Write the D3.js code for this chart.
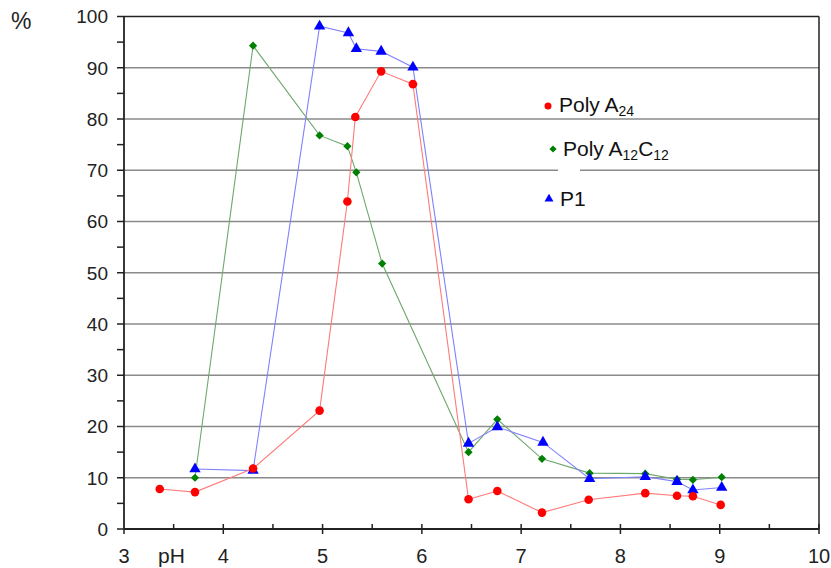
<!DOCTYPE html>
<html>
<head>
<meta charset="utf-8">
<script src="https://cdn.jsdelivr.net/npm/d3@7"></script>
<style>
  body { margin: 0; background: #fff; }
  svg { display: block; font-family: "Liberation Sans", Arial, sans-serif; }
</style>
</head>
<body>
<svg id="chart" width="831" height="568"></svg>
<script>
// pH values measured for each sample
var phRed   = [3.36, 3.715, 4.30, 4.97, 5.25, 5.33, 5.59, 5.91, 6.47, 6.76, 7.21, 7.68, 8.25, 8.57, 8.73, 9.01];
var polyA24 = [7.8, 7.2, 11.8, 23.1, 63.9, 80.4, 89.3, 86.8, 5.8, 7.4, 3.2, 5.7, 7.0, 6.5, 6.4, 4.7];

var phGreen    = [3.715, 4.30, 4.97, 5.25, 5.34, 5.60, 6.47, 6.76, 7.21, 7.69, 8.25, 8.57, 8.73, 9.02];
var polyA12C12 = [10.0, 94.3, 76.8, 74.7, 69.6, 51.8, 15.0, 21.4, 13.7, 10.9, 10.8, 9.7, 9.6, 10.1];

var phBlue = [3.715, 4.30, 4.97, 5.26, 5.34, 5.59, 5.91, 6.47, 6.76, 7.22, 7.69, 8.25, 8.57, 8.73, 9.02];
var p1     = [11.7, 11.4, 98.1, 96.8, 93.7, 93.2, 90.1, 16.7, 19.9, 16.9, 9.8, 10.2, 9.25, 7.6, 8.1];

var xTicks = [3, 4, 5, 6, 7, 8, 9, 10];
var yTicks = [0, 10, 20, 30, 40, 50, 60, 70, 80, 90, 100];

var svg = d3.select('#chart');
var margin = {top: 16.5, right: 12, bottom: 39, left: 124},
    width = 831 - margin.left - margin.right,
    height = 568 - margin.top - margin.bottom;

var g = svg.append('g').attr('transform', 'translate(' + margin.left + ',' + margin.top + ')');

var xScale = d3.scaleLinear().domain([3, 10]).range([0, width]);
var yScale = d3.scaleLinear().domain([0, 100]).range([height, 0]);

// gridlines
g.selectAll('.grid').data(yTicks.slice(1, -1)).enter().append('line')
    .attr('x1', 0).attr('x2', width)
    .attr('y1', function(d) { return yScale(d); })
    .attr('y2', function(d) { return yScale(d); })
    .attr('stroke', '#8a8a8a').attr('stroke-width', 1.3);

// white gap behind the legend
g.append('rect').attr('x', 434).attr('y', yScale(70) - 4).attr('width', 22).attr('height', 8).attr('fill', '#fff');

// frame
g.append('line').attr('x1', 0).attr('x2', width).attr('y1', 0).attr('y2', 0).attr('stroke', '#222').attr('stroke-width', 1.5);
g.append('line').attr('x1', width).attr('x2', width).attr('y1', 0).attr('y2', height).attr('stroke', '#222').attr('stroke-width', 1.5);

// y axis
var yMinor = d3.range(0, 101, 5);
g.selectAll('.ytick').data(yMinor).enter().append('line')
    .attr('x1', -7).attr('x2', 0)
    .attr('y1', function(d) { return yScale(d); })
    .attr('y2', function(d) { return yScale(d); })
    .attr('stroke', '#222').attr('stroke-width', 1.5);
g.append('line').attr('x1', 0).attr('x2', 0).attr('y1', 0).attr('y2', height).attr('stroke', '#222').attr('stroke-width', 1.8);
g.selectAll('.ylabel').data(yTicks).enter().append('text')
    .attr('x', -16).attr('y', function(d) { return yScale(d); })
    .attr('dy', '0.36em').attr('text-anchor', 'end')
    .attr('font-size', 19).attr('fill', '#222')
    .text(function(d) { return d; });

// x axis
g.append('line').attr('x1', 0).attr('x2', width).attr('y1', height).attr('y2', height).attr('stroke', '#222').attr('stroke-width', 1.8);
var xMinor = d3.range(3.5, 10, 1);
g.selectAll('.xminor').data(xMinor).enter().append('line')
    .attr('x1', function(d) { return xScale(d); })
    .attr('x2', function(d) { return xScale(d); })
    .attr('y1', height - 5).attr('y2', height)
    .attr('stroke', '#222').attr('stroke-width', 1.5);
g.selectAll('.xmajor').data(xTicks).enter().append('line')
    .attr('x1', function(d) { return xScale(d); })
    .attr('x2', function(d) { return xScale(d); })
    .attr('y1', function(d) { return d === 3 ? height : height - 5; }).attr('y2', height + 5)
    .attr('stroke', '#222').attr('stroke-width', 1.5);
g.selectAll('.xlabel').data(xTicks).enter().append('text')
    .attr('x', function(d) { return xScale(d); })
    .attr('y', height + 34)
    .attr('text-anchor', 'middle')
    .attr('font-size', 20).attr('fill', '#222')
    .text(function(d) { return d; });

g.append('text').attr('x', 34).attr('y', height + 34).attr('font-size', 21).attr('fill', '#222').text('pH');
svg.append('text').attr('x', 11).attr('y', 29).attr('font-size', 23).attr('fill', '#222').text('%');

function zip(xs, ys) {
    return xs.map(function(x, i) { return {x: x, y: ys[i]}; });
}

var line = d3.line().x(function(d) { return xScale(d.x); }).y(function(d) { return yScale(d.y); });

// square rotated 45 degrees gives the diamond used by the original
var series = [
    {data: zip(phGreen, polyA12C12), line: '#6fa86f', color: '#008000', sym: d3.symbolSquare, size: 34, rot: 45},
    {data: zip(phBlue, p1), line: '#8080ff', color: '#0000ff', sym: d3.symbolTriangle, size: 56, rot: 0},
    {data: zip(phRed, polyA24), line: '#ff7a7a', color: '#ff0000', sym: d3.symbolCircle, size: 58, rot: 0}
];

series.forEach(function(s) {
    g.append('path').datum(s.data).attr('d', line)
        .attr('fill', 'none').attr('stroke', s.line).attr('stroke-width', 1.1);
});
series.forEach(function(s) {
    g.selectAll(null).data(s.data).enter().append('path')
        .attr('d', d3.symbol().type(s.sym).size(s.size))
        .attr('transform', function(d) { return 'translate(' + xScale(d.x) + ',' + yScale(d.y) + ') rotate(' + s.rot + ')'; })
        .attr('fill', s.color);
});

// legend
var legend = svg.append('g');
legend.append('circle').attr('cx', 548).attr('cy', 106).attr('r', 3.5).attr('fill', '#ff0000');
var t1 = legend.append('text').attr('x', 559).attr('y', 112).attr('font-size', 21).attr('fill', '#111');
t1.append('tspan').text('Poly A');
t1.append('tspan').attr('font-size', 14).attr('dy', 4).text('24');

legend.append('path').attr('d', d3.symbol().type(d3.symbolSquare).size(26))
    .attr('transform', 'translate(553,149) rotate(45)').attr('fill', '#008000');
var t2 = legend.append('text').attr('x', 563).attr('y', 156).attr('font-size', 21).attr('fill', '#111');
t2.append('tspan').text('Poly A');
t2.append('tspan').attr('font-size', 14).attr('dy', 4).text('12');
t2.append('tspan').attr('font-size', 21).attr('dy', -4).text('C');
t2.append('tspan').attr('font-size', 14).attr('dy', 4).text('12');

legend.append('path').attr('d', d3.symbol().type(d3.symbolTriangle).size(35))
    .attr('transform', 'translate(549,199)').attr('fill', '#0000ff');
legend.append('text').attr('x', 560).attr('y', 206).attr('font-size', 21).attr('fill', '#111').text('P1');
</script>
</body>
</html>
